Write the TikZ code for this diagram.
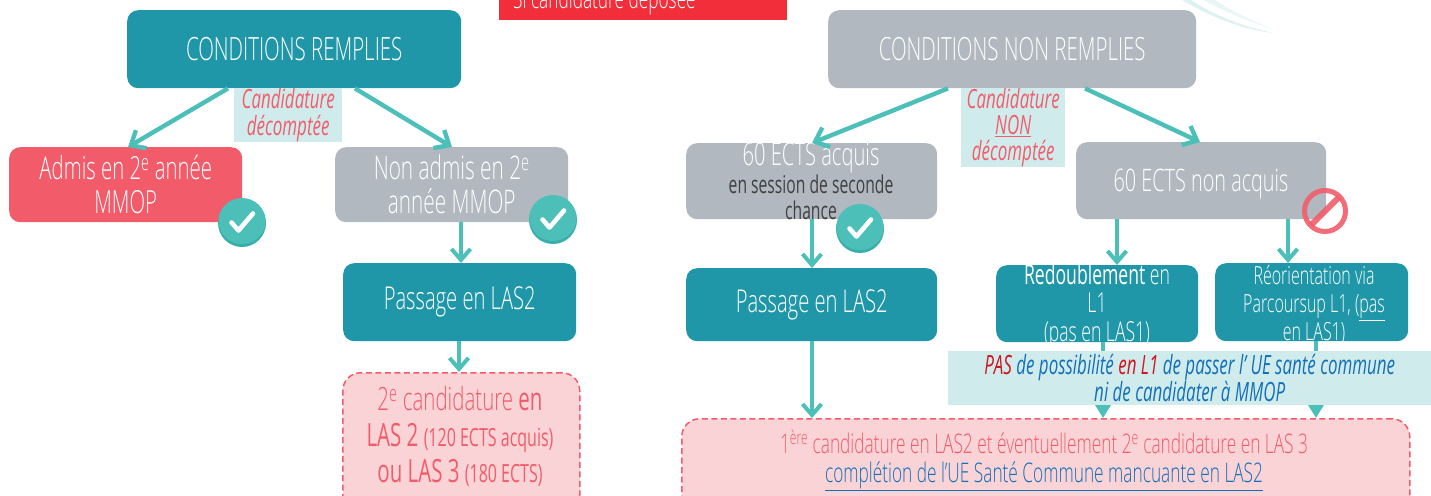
\documentclass[tikz,border=0pt]{standalone}
\usepackage{fontspec}
\setmainfont[FakeStretch=0.64,BoldFont={Open Sans},BoldFeatures={FakeStretch=0.64},ItalicFont={Open Sans Light Italic},ItalicFeatures={FakeStretch=0.64}]{Open Sans Light}
\newfontfamily\regfont[FakeStretch=0.64,ItalicFeatures={FakeStretch=0.64}]{Open Sans}
\usetikzlibrary{arrows.meta,calc}
\definecolor{tealbox}{HTML}{2097A8}
\definecolor{greybox}{HTML}{B1B8BF}
\definecolor{redbox}{HTML}{F25C6A}
\definecolor{arrowc}{HTML}{4BBFB8}
\definecolor{pale}{HTML}{D0EBEC}
\definecolor{pink}{HTML}{F9D3D6}
\definecolor{blueT}{HTML}{1270B8}
\definecolor{redT}{HTML}{D0131E}
\newcommand{\fs}[2]{\fontsize{#1}{#2}\selectfont}
\newcommand{\sq}[1]{\textsuperscript{#1}}
\tikzset{
  box/.style={rounded corners=11,inner sep=0,text=white,align=center,anchor=north west},
  tealnode/.style={box,fill=tealbox},
  greynode/.style={box,fill=greybox},
  dashnode/.style={box,fill=pink,draw=redbox,dashed,dash pattern=on 6 off 3.5,line width=1.5,text=redbox,rounded corners=18},
  labelbox/.style={inner sep=0,fill=pale,align=center,anchor=north west},
  arr/.style={draw=arrowc,line width=4.4,-{Straight Barb[length=12,width=21,line width=4.4]}},
  thin arr/.style={draw=arrowc,line width=4,-{Straight Barb[length=11,width=19,line width=4]}},
  hidden arr/.style={draw=arrowc,line width=4,-{Triangle[length=13,width=15]}},
}
\newcommand{\okicon}[2]{%
  \fill[fill=black!0!arrowc!75!teal] (#1,#2+1) circle[x radius=24,y radius=24];
  \fill[arrowc] (#1,#2-1) circle[x radius=23.5,y radius=23];
  \draw[white,line width=4.6,line cap=round,line join=round] (#1-10.5,#2+0.5) -- (#1-3.5,#2+8.5) -- (#1+11,#2-8.5);
}
\begin{document}
\begin{tikzpicture}[x=1pt,y=-1pt]
\useasboundingbox (0,0) rectangle (1431,495);
\clip (0,0) rectangle (1431,495);
% swoosh
\fill[pale!70] (1191,0) .. controls (1215,16) and (1245,27) .. (1273,33) .. controls (1245,30) and (1212,18) .. (1182,0) -- cycle;
\fill[pale!45] (1215,0) .. controls (1230,10) and (1250,20) .. (1273,29) .. controls (1250,22) and (1225,12) .. (1203,0) -- cycle;
% top red
\node[inner sep=0,fill={rgb,255:red,242;green,46;blue,59},text=white,anchor=north west,minimum width=288,minimum height=32] (topred) at (499,-12) {};
\node[anchor=base west,inner sep=0,text=white,font=\fs{27}{29}] (toptext) at (513,8.5) {Si candidature déposée};
% boxes
\node[tealnode,minimum width=334,minimum height=78,font=\fs{32}{34}] (cr) at (127,10) {CONDITIONS REMPLIES};
\node[box,fill=redbox,minimum width=233,minimum height=75,font=\fs{31.8}{34}] (adm) at (9,147) {Admis en 2\sq{e} année\\MMOP};
\node[greynode,minimum width=233,minimum height=75,font=\fs{32.5}{34}] (nadm) at (335,147) {Non admis en 2\sq{e}\\année MMOP};
\node[tealnode,minimum width=233,minimum height=78,font=\fs{31.5}{32}] (pl) at (343,263) {Passage en LAS2};
\node[dashnode,minimum width=237,minimum height=140,anchor=north west] (dl) at (342,372) {};
\node[anchor=north,inner sep=0,align=center,text=redbox,font=\fs{32}{36}] (dltext) at (460,386) {2\sq{e} candidature \textbf{en}\\\textbf{LAS 2} {\fs{25}{36}\regfont(120 ECTS acquis)}\\\textbf{ou LAS 3} {\fs{25}{36}\regfont(180 ECTS)}};
\node[labelbox,minimum width=108,minimum height=54,text=redbox,font=\regfont\itshape\fs{26.5}{27}] (c1) at (234,88) {Candidature\\décomptée};
\node[greynode,minimum width=368,minimum height=78,font=\fs{32}{34}] (cnr) at (828,10) {CONDITIONS NON REMPLIES};
\node[labelbox,minimum width=104,minimum height=78,text=redbox,font=\regfont\itshape\fs{26.5}{26}] (c2) at (961,88) {Candidature\\\underline{NON}\\décomptée};
\node[greynode,minimum width=251,minimum height=76] (a60) at (686,143) {};
\node[anchor=center,inner sep=0,text=white,font=\fs{31.5}{30}] (a60a) at (811,158) {60 ECTS acquis};
\node[anchor=north,inner sep=0,align=center,text=black!75,font=\regfont\fs{24.5}{26}] (a60b) at (811,174.5) {en session de seconde\\chance};
\node[greynode,minimum width=250,minimum height=77] (n60) at (1076,142) {};
\node[anchor=center,inner sep=0,text=white,font=\fs{31}{32}] (n60t) at (1201,184) {60 ECTS non acquis};
\node[tealnode,minimum width=251,minimum height=73,font=\fs{31.5}{32}] (pr) at (686,268) {Passage en LAS2};
\node[tealnode,minimum width=202,minimum height=77] (red) at (996,265) {};
\node[anchor=north,inner sep=0,align=center,text=white,font=\fs{27.5}{28.5}] (redt) at (1097,263) {\textbf{Redoublement} en\\L1\\(pas en LAS1)};
\node[tealnode,minimum width=193,minimum height=78] (reo) at (1215,263) {};
\node[anchor=north,inner sep=0,align=center,text=white,font=\fs{25}{28}] (reot) at (1314,265) {Réorientation via\\Parcoursup L1, (\underline{pas}\\\underline{en LAS1})};
\node[dashnode,minimum width=728,minimum height=110] (dr) at (681,418) {};
\node[anchor=north,inner sep=0,align=center,text=redbox,font=\fs{27}{29}] (drt) at (1044,430) {1\sq{ère} candidature en LAS2 et éventuellement 2\sq{e} candidature en LAS 3\\\textcolor{blueT}{\underline{complétion de l’UE Santé Commune mancuante en LAS2}}};
% connectors
\coordinate (q1) at ($(cr.south west)+(101,0)$);
\coordinate (q2) at ($(adm.north west)+(119,0)$);
\draw[arr] (q1) -- (q2);
\coordinate (q3) at ($(cr.south west)+(228,0)$);
\coordinate (q4) at ($(nadm.north west)+(117,0)$);
\draw[arr] (q3) -- (q4);
\coordinate (q5) at ($(nadm.south west)+(126,0)$);
\draw[thin arr] (q5) -- (q5 |- pl.north);
\coordinate (q6) at ($(pl.south west)+(116,0)$);
\draw[thin arr] (q6) -- (q6 |- dl.north);
\coordinate (q7) at ($(cnr.south west)+(120,0)$);
\coordinate (q8) at ($(a60.north west)+(126,0)$);
\draw[arr] (q7) -- (q8);
\coordinate (q9) at ($(cnr.south west)+(257,0)$);
\coordinate (q10) at ($(n60.north west)+(124,0)$);
\draw[arr] (q9) -- (q10);
\coordinate (q11) at ($(a60.south west)+(126,0)$);
\draw[thin arr] (q11) -- (q11 |- pr.north);
\coordinate (q12) at ($(pr.south west)+(126,0)$);
\draw[thin arr] (q12) -- (q12 |- dr.north);
\coordinate (q13) at ($(n60.south west)+(41,0)$);
\draw[thin arr] (q13) -- (q13 |- red.north);
\coordinate (q14) at ($(n60.south west)+(212,0)$);
\draw[thin arr] (q14) -- (q14 |- reo.north);
\coordinate (q15) at ($(red.south west)+(107,0)$);
\draw[hidden arr] (q15) -- (q15 |- dr.north);
\coordinate (q16) at ($(reo.south west)+(101,0)$);
\draw[hidden arr] (q16) -- (q16 |- dr.north);
% note over arrows
\node[labelbox,minimum width=483,minimum height=54,font=\regfont\itshape\fs{26.5}{27}] (pas) at (948,351) {%
  \textcolor{redT}{PAS} \textcolor{blueT}{de possibilité} \textcolor{redT}{en L1} \textcolor{blueT}{de passer l’ UE santé commune}\\\textcolor{blueT}{ni de candidater à MMOP}};
% icons
\okicon{242}{222}
\okicon{553}{219}
\okicon{860}{228}
\draw[redbox,opacity=.9,line width=5] (1325,211) circle[radius=20.5];
\draw[redbox,opacity=.9,line width=6] (1311,225) -- (1339,197);
\end{tikzpicture}
\end{document}
